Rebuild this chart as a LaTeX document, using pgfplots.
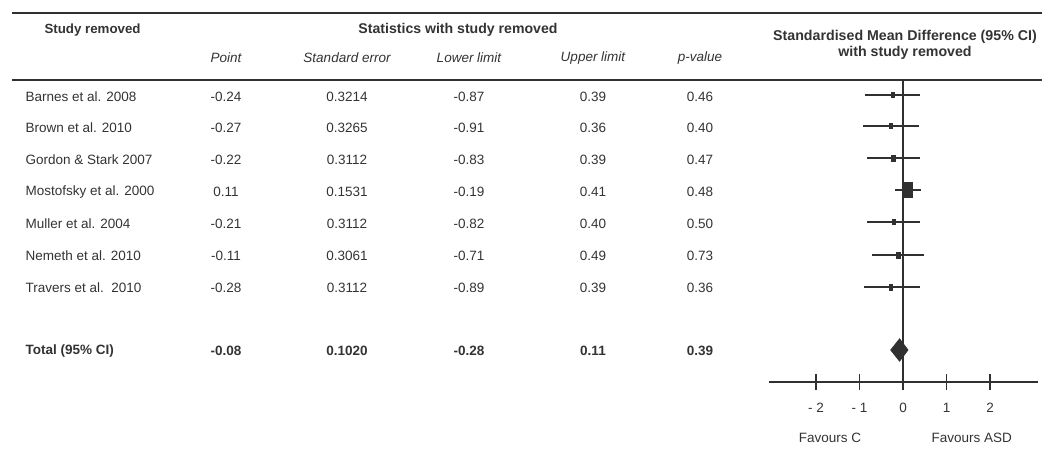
\documentclass[border=0pt]{standalone}
\usepackage{pgfplots}
\pgfplotsset{compat=1.18}
\usepackage{pgfplotstable}
\usepackage{fontspec}
\setmainfont{Liberation Sans}
\definecolor{txt}{HTML}{333333}
\definecolor{ln}{HTML}{303030}

% y = row position (px from top), pt = point estimate, lo/hi = 95% CI, w = marker half-height
\pgfplotstableread{
y   pt     lo     hi    w
95  -0.24  -0.87  0.39  2.6
126 -0.27  -0.91  0.36  2.6
158 -0.22  -0.83  0.39  3.0
190  0.11  -0.19  0.41  7.5
222 -0.21  -0.82  0.40  2.8
255 -0.11  -0.71  0.49  3.0
287 -0.28  -0.89  0.39  3.0
}\studies

\begin{document}
\begin{tikzpicture}[x=1pt,y=-1pt,font=\fontsize{13.5}{16}\selectfont,text=txt]
\path (0,0) rectangle (1053,450);
\draw[ln, line width=1.8pt] (12,13) -- (1042,13);
\draw[ln, line width=1.8pt] (12,80) -- (1042,80);

% headers
\node[font=\fontsize{13.3}{15}\selectfont\bfseries, anchor=west] at (41,30) {Study removed};
\node[font=\fontsize{14.1}{15}\selectfont\bfseries] at (458,30) {Statistics with study removed};
\node[font=\fontsize{13.5}{16}\selectfont\itshape] at (226,58) {Point};
\node[font=\fontsize{13.5}{16}\selectfont\itshape] at (347,58) {Standard error};
\node[font=\fontsize{13.5}{16}\selectfont\itshape] at (469,58) {Lower limit};
\node[font=\fontsize{13.5}{16}\selectfont\itshape] at (593,58) {Upper limit};
\node[font=\fontsize{13.5}{16}\selectfont\itshape] at (700,58) {p-value};
\node[font=\fontsize{14.2}{15.5}\selectfont\bfseries, align=center] at (905,45) {Standardised Mean Difference (95\% CI)\\with study removed};

% rows
\foreach \yy/\name/\p/\se/\lo/\hi/\pv in {
97/Barnes et al. 2008/-0.24/0.3214/-0.87/0.39/0.46,
128/Brown et al. 2010/-0.27/0.3265/-0.91/0.36/0.40,
160/Gordon \& Stark 2007/-0.22/0.3112/-0.83/0.39/0.47,
192/Mostofsky et al. 2000/0.11/0.1531/-0.19/0.41/0.48,
224/Muller et al. 2004/-0.21/0.3112/-0.82/0.40/0.50,
256/Nemeth et al. 2010/-0.11/0.3061/-0.71/0.49/0.73,
288/Travers et al.~~2010/-0.28/0.3112/-0.89/0.39/0.36}{
  \node[anchor=west] at (22,\yy) {\name};
  \node at (226,\yy) {\p};
  \node at (347,\yy) {\se};
  \node at (469,\yy) {\lo};
  \node at (593,\yy) {\hi};
  \node at (700,\yy) {\pv};
}
\begin{scope}[font=\fontsize{13.5}{16}\selectfont\bfseries]
\node[anchor=west] at (22,351) {Total (95\% CI)};
\node at (226,351) {-0.08};
\node at (347,351) {0.1020};
\node at (469,351) {-0.28};
\node at (593,351) {0.11};
\node at (700,351) {0.39};
\end{scope}

\begin{axis}[at={(769pt,-382pt)}, anchor=south west,
  width=269pt, height=302pt, scale only axis,
  xmin=-3.08, xmax=3.1, ymin=80, ymax=382, y dir=reverse,
  axis line style={draw=none}, xtick=\empty, ytick=\empty, clip=false]
% zero line and x axis
\addplot[ln, line width=1.6pt] coordinates {(0,80) (0,382)};
\addplot[ln, line width=1.6pt] coordinates {(-3.08,382) (3.1,382)};
\foreach \t/\lab in {-2/- 2,-1/- 1,0/0,1/1,2/2}{
  \edef\tmp{\noexpand\draw[ln, line width=1.6pt] (axis cs:\t,374) -- (axis cs:\t,390);
  \noexpand\node[text=txt, font=\noexpand\fontsize{13.5}{16}\noexpand\selectfont] at (axis cs:\t,408) {\lab};}
  \tmp
}
\node[text=txt] at (axis cs:-1.68,438) {Favours C};
\node[text=txt] at (axis cs:1.58,438) {Favours ASD};
% confidence intervals
\addplot[ln, line width=1.6pt, draw=none, mark=none,
  error bars/.cd, x dir=both, x explicit, error mark=none,
  error bar style={ln, line width=1.6pt}]
  table[x=pt, y=y, x error plus expr=\thisrow{hi}-\thisrow{pt},
        x error minus expr=\thisrow{pt}-\thisrow{lo}] {\studies};
% study markers
\addplot[only marks, scatter, mark=square*, mark options={xscale=0.6, fill=ln, draw=ln, line width=0pt},
  visualization depends on={\thisrow{w} \as \msz},
  scatter/use mapped color={fill=ln, draw=ln},
  scatter/@pre marker code/.append style={/tikz/mark size=\msz}]
  table[x=pt, y=y] {\studies};
% pooled estimate diamond
\addplot[fill=ln, draw=ln, line width=1pt] coordinates {(-0.28,350) (-0.08,339) (0.11,350) (-0.08,361)} -- cycle;
\end{axis}
\end{tikzpicture}
\end{document}
